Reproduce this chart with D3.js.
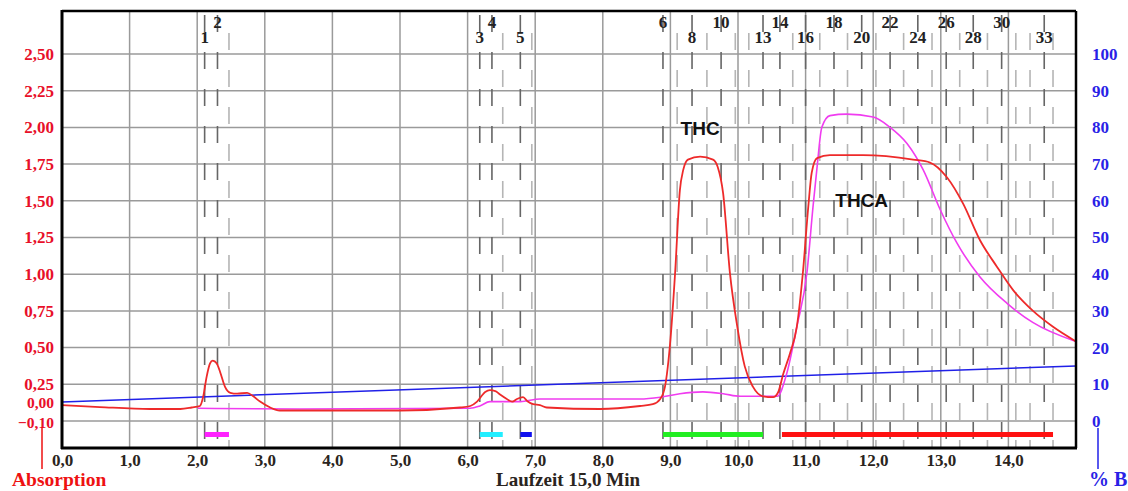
<!DOCTYPE html>
<html>
<head>
<meta charset="utf-8">
<script src="https://cdn.jsdelivr.net/npm/d3@7"></script>
<style>
  body { margin: 0; background: #fff; }
  svg text { font-family: "Liberation Serif", "DejaVu Serif", serif; font-weight: bold; }
</style>
</head>
<body>
<svg id="chart" width="1128" height="491"></svg>
<script>
// ---- data ----
const xTicks = [0, 1, 2, 3, 4, 5, 6, 7, 8, 9, 10, 11, 12, 13, 14]
const absTicks = [2.5, 2.25, 2.0, 1.75, 1.5, 1.25, 1.0, 0.75, 0.5, 0.25, 0.0, -0.1]
const pctTicks = [0, 10, 20, 30, 40, 50, 60, 70, 80, 90, 100]

// absorption trace (red), time in min
const redTime = [0, 0.56, 1.30, 1.75, 1.92, 2.04, 2.09, 2.14, 2.19, 2.23, 2.29, 2.34, 2.41, 2.49, 2.59, 2.74, 2.83, 2.93, 3.08, 3.22, 5.0, 5.89, 6.04, 6.14, 6.26, 6.33, 6.41, 6.48, 6.58, 6.66, 6.73, 6.82, 6.89, 6.97, 7.07, 7.17, 7.96, 8.55, 8.74, 8.85, 8.92, 9.0, 9.07, 9.14, 9.19, 9.26, 9.44, 9.63, 9.70, 9.78, 9.88, 9.99, 10.10, 10.22, 10.37, 10.52, 10.59, 10.67, 10.77, 10.87, 10.96, 11.04, 11.09, 11.17, 11.36, 11.85, 12.59, 12.84, 13.09, 13.33, 13.58, 13.83, 14.07, 14.36, 14.66, 15.0]
const redAbs = [0.01, -0.007, -0.02, -0.02, -0.01, 0.0, 0.11, 0.30, 0.39, 0.41, 0.39, 0.33, 0.22, 0.15, 0.14, 0.15, 0.11, 0.05, -0.01, -0.03, -0.03, -0.01, 0.0, 0.05, 0.16, 0.18, 0.17, 0.13, 0.08, 0.05, 0.08, 0.10, 0.05, 0.02, 0.01, -0.01, -0.02, 0.0, 0.02, 0.08, 0.22, 0.55, 1.01, 1.57, 1.71, 1.78, 1.80, 1.78, 1.73, 1.55, 1.01, 0.64, 0.37, 0.22, 0.11, 0.10, 0.15, 0.32, 0.46, 0.64, 1.01, 1.46, 1.69, 1.79, 1.81, 1.81, 1.78, 1.76, 1.66, 1.48, 1.23, 1.05, 0.89, 0.75, 0.64, 0.54]

// second trace (magenta)
const magTime = [2.01, 3.52, 6.04, 6.18, 6.33, 6.78, 7.07, 8.55, 8.85, 9.14, 9.48, 9.78, 10.03, 10.37, 10.58, 10.72, 10.87, 11.02, 11.11, 11.17, 11.24, 11.36, 11.61, 12.0, 12.25, 12.50, 12.74, 12.99, 13.24, 13.58, 13.98, 14.36, 15.0]
const magAbs = [-0.015, -0.02, -0.015, 0.0, 0.05, 0.05, 0.08, 0.08, 0.10, 0.14, 0.16, 0.14, 0.11, 0.11, 0.11, 0.32, 0.64, 1.01, 1.46, 1.73, 2.00, 2.08, 2.09, 2.07, 2.00, 1.89, 1.71, 1.44, 1.21, 0.98, 0.80, 0.67, 0.54]

// gradient %B (blue)
const gradTime = [0, 15]
const gradPct = [5.2, 15]

// fraction collector
const fracNum = [1, 2, 3, 4, 5, 6, 7, 8, 9, 10, 11, 12, 13, 14, 15, 16, 17, 18, 19, 20, 21, 22, 23, 24, 25, 26, 27, 28, 29, 30, 31, 32, 33]
const fracTime = [2.11, 2.30, 6.18, 6.36, 6.78, 8.89, 9.10, 9.32, 9.54, 9.75, 9.96, 10.16, 10.37, 10.62, 10.81, 11.0, 11.21, 11.42, 11.62, 11.83, 12.04, 12.25, 12.45, 12.66, 12.87, 13.08, 13.28, 13.48, 13.69, 13.90, 14.11, 14.32, 14.53]
const fracLabels = [1, 2, 3, 4, 5, 6, 8, 10, 13, 14, 16, 18, 20, 22, 24, 26, 28, 30, 33]
const fracEnds = [2.47, 6.52, 6.95, 14.66]

// collected pools
const poolStart = [2.11, 6.18, 6.78, 8.89, 10.65]
const poolEnd = [2.47, 6.52, 6.95, 10.37, 14.66]
const poolColor = ['#ff22ff', '#22eeff', '#1010ee', '#22ee22', '#ff1111']

const peakNames = ['THC', 'THCA']
const peakTime = [9.44, 11.83]
const peakAbs = [1.95, 1.46]

// ---- layout ----
const svg = d3.select('#chart')
const plotL = 62, plotR = 1076, plotT = 11, plotB = 448

const x = d3.scaleLinear().domain([0, 15]).range([plotL, plotR])
const yPct = d3.scaleLinear().domain([0, 100]).range([421, 54])
// the instrument squeezes the bottom of the absorption scale
const yAbs = d3.scaleLinear().domain([-0.1, 0, 0.25, 2.5]).range([421, 406, 384, 54])

const comma = f => v => d3.format(f)(v).replace('.', ',')

// grid
const grid = svg.append('g').attr('stroke', '#9a9a9a').attr('stroke-width', 1.5)
grid.selectAll('line.v').data(xTicks.slice(1))
  .enter().append('line')
  .attr('x1', d => x(d)).attr('x2', d => x(d))
  .attr('y1', plotT).attr('y2', plotB)
grid.selectAll('line.h').data(pctTicks)
  .enter().append('line')
  .attr('x1', plotL).attr('x2', plotR)
  .attr('y1', d => yPct(d)).attr('y2', d => yPct(d))

// fraction marks
const fracG = svg.append('g')
const isLabelled = n => fracLabels.indexOf(n) >= 0
fracG.selectAll('line.frac').data(fracNum)
  .enter().append('line')
  .attr('x1', (d, i) => x(fracTime[i])).attr('x2', (d, i) => x(fracTime[i]))
  .attr('y1', plotT + 4).attr('y2', plotB)
  .attr('stroke', d => isLabelled(d) ? '#666' : '#b5b5b5')
  .attr('stroke-width', 1.6)
  .attr('stroke-dasharray', '17,20')
  .attr('stroke-dashoffset', d => isLabelled(d) ? 0 : -18)
fracG.selectAll('line.end').data(fracEnds)
  .enter().append('line')
  .attr('x1', d => x(d)).attr('x2', d => x(d))
  .attr('y1', plotT + 4).attr('y2', plotB)
  .attr('stroke', '#b5b5b5')
  .attr('stroke-width', 1.6)
  .attr('stroke-dasharray', '17,20')
  .attr('stroke-dashoffset', -18)

fracG.selectAll('text').data(fracLabels)
  .enter().append('text')
  .attr('x', d => x(fracTime[fracNum.indexOf(d)]))
  .attr('y', (d, i) => i % 2 === 0 ? 43 : 28)
  .attr('text-anchor', 'middle')
  .attr('font-size', 17)
  .attr('fill', '#222')
  .text(d => d)

// pools
svg.append('g').selectAll('rect').data(poolStart)
  .enter().append('rect')
  .attr('x', d => x(d))
  .attr('width', (d, i) => x(poolEnd[i]) - x(d))
  .attr('y', 432).attr('height', 5)
  .attr('fill', (d, i) => poolColor[i])

// traces
const gradLine = d3.line().x(d => x(d[0])).y(d => yPct(d[1]))
svg.append('path')
  .datum(d3.zip(gradTime, gradPct))
  .attr('d', gradLine)
  .attr('fill', 'none').attr('stroke', '#2020e8').attr('stroke-width', 1.5)

const absLine = d3.line().x(d => x(d[0])).y(d => yAbs(d[1])).curve(d3.curveMonotoneX)
svg.append('path')
  .datum(d3.zip(magTime, magAbs))
  .attr('d', absLine)
  .attr('fill', 'none').attr('stroke', '#f03cf0').attr('stroke-width', 1.6)
svg.append('path')
  .datum(d3.zip(redTime, redAbs))
  .attr('d', absLine)
  .attr('fill', 'none').attr('stroke', '#ee2a2a').attr('stroke-width', 1.8)

// peak names
svg.append('g').selectAll('text').data(peakNames)
  .enter().append('text')
  .attr('x', (d, i) => x(peakTime[i]))
  .attr('y', (d, i) => yAbs(peakAbs[i]))
  .attr('text-anchor', 'middle')
  .style('font-family', '"Liberation Sans", Arial, sans-serif')
  .attr('font-size', 19)
  .attr('fill', '#111')
  .text(d => d)

// frame
const frame = svg.append('g').attr('stroke', '#000').attr('fill', 'none')
frame.append('line').attr('x1', plotL).attr('x2', plotR).attr('y1', plotT).attr('y2', plotT).attr('stroke-width', 2.5)
frame.append('line').attr('x1', plotR).attr('x2', plotR).attr('y1', plotT).attr('y2', plotB).attr('stroke-width', 2.5)
frame.append('line').attr('x1', plotL - 1).attr('x2', plotR + 1).attr('y1', plotB).attr('y2', plotB).attr('stroke-width', 3)
frame.append('line').attr('x1', plotL).attr('x2', plotL).attr('y1', plotT - 1).attr('y2', plotB + 1).attr('stroke-width', 3)

// axes (labels only)
const xAxis = svg.append('g').attr('transform', `translate(0,${plotB})`)
  .call(d3.axisBottom(x).tickValues(xTicks).tickSize(0).tickPadding(6).tickFormat(comma('.1f')))
const yAxisL = svg.append('g').attr('transform', `translate(${plotL - 6},0)`)
  .call(d3.axisLeft(yAbs).tickValues(absTicks).tickSize(0).tickPadding(2).tickFormat(comma('.2f')))
const yAxisR = svg.append('g').attr('transform', `translate(${plotR + 14},0)`)
  .call(d3.axisRight(yPct).tickValues(pctTicks).tickSize(0).tickPadding(2))

;[xAxis, yAxisL, yAxisR].forEach(a => {
  a.select('.domain').remove()
  a.selectAll('text')
    .attr('font-size', 17)
    .style('font-family', '"Liberation Serif", serif')
    .style('font-weight', 'bold')
})
xAxis.selectAll('text').attr('fill', '#2a2420')
yAxisL.selectAll('text').attr('fill', '#e8102a')
  .attr('font-size', d => d <= 0 ? 15.5 : 17)
  .attr('dy', d => d === 0 ? '0.1em' : d < 0 ? '0.45em' : '0.32em')
yAxisR.selectAll('text').attr('fill', '#2a1fe6')

// axis titles
svg.append('line').attr('x1', 42).attr('x2', 42).attr('y1', 427).attr('y2', 469)
  .attr('stroke', '#ee1111').attr('stroke-width', 1.5)
svg.append('text').attr('x', 12).attr('y', 486).attr('font-size', 19.5).attr('fill', '#ee1111').text('Absorption')

svg.append('line').attr('x1', 1098).attr('x2', 1098).attr('y1', 428).attr('y2', 469)
  .attr('stroke', '#2020e8').attr('stroke-width', 1.5)
svg.append('text').attr('x', 1089).attr('y', 486).attr('font-size', 20).attr('fill', '#2a1fe6').text('% B')

svg.append('text').attr('x', 568).attr('y', 486).attr('text-anchor', 'middle')
  .attr('font-size', 19).attr('fill', '#2a2420').text('Laufzeit 15,0 Min')
</script>
</body>
</html>
